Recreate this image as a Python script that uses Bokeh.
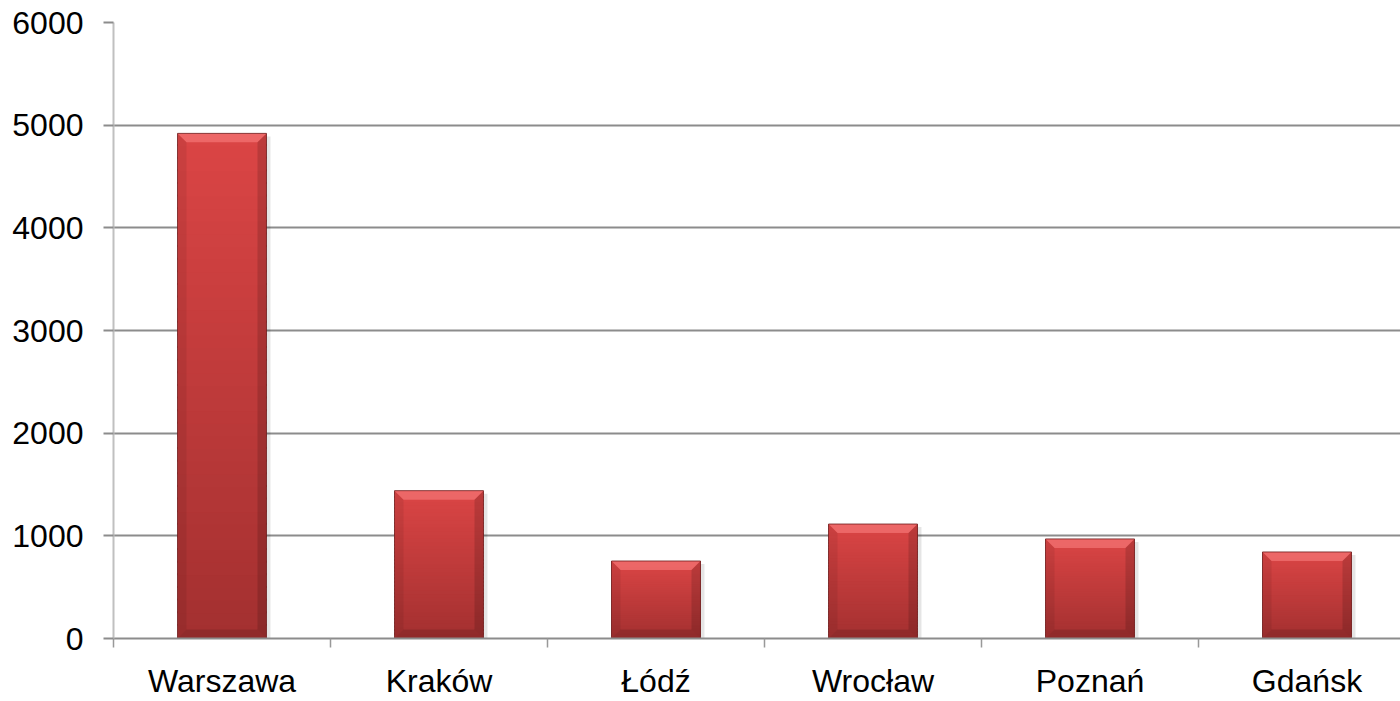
import numpy as np
from bokeh.plotting import figure
from bokeh.models import Range1d, FixedTicker
from bokeh.embed import file_html
from bokeh.resources import INLINE

# City figures
cities = ["Warszawa", "Kraków", "Łódź", "Wrocław", "Poznań", "Gdańsk"]
values = [4920, 1440, 755, 1115, 970, 843]
y_ticks = [0, 1000, 2000, 3000, 4000, 5000, 6000]

W, H = 1400, 701
LEFT, TOP, BOTTOM = 113, 22, 62
CAT_PX = 217          # pixel width of one category slot
BAR_W = 0.41          # bar width as share of a slot

frame_w = W - LEFT
frame_h = H - TOP - BOTTOM
x_end = frame_w / CAT_PX
y_max = y_ticks[-1]

p = figure(width=W, height=H, output_backend="svg", toolbar_location=None,
           x_range=Range1d(0, x_end), y_range=Range1d(0, y_max),
           min_border_left=LEFT, min_border_top=TOP, min_border_bottom=BOTTOM,
           min_border_right=0)
p.outline_line_color = None
p.background_fill_color = "white"
p.border_fill_color = "white"

centers = np.arange(len(cities)) + 0.5
vals = np.array(values, dtype=float)
left = centers - BAR_W / 2
right = centers + BAR_W / 2

# pixel -> data unit conversions for the bevel and shadow
px_x = 1.0 / CAT_PX
px_y = y_max / frame_h

# soft drop shadow
p.quad(left=left + 3 * px_x, right=right + 4 * px_x, bottom=0, top=vals - 3 * px_y,
       fill_color="#000000", fill_alpha=0.10, line_color=None)

# vertical gradient body, sliced per bar (slices overlap to avoid seams)
top_rgb = np.array([0xdb, 0x45, 0x45])
bot_rgb = np.array([0xa3, 0x30, 0x30])
n = 40
gl, gr, gb, gt, gc = [], [], [], [], []
for l, r, v in zip(left, right, vals):
    edges = np.linspace(0, v, n + 1)
    for k in range(n):
        t = (k + 0.5) / n  # 0 bottom -> 1 top
        c = bot_rgb + (top_rgb - bot_rgb) * t
        gl.append(l); gr.append(r)
        gb.append(edges[k]); gt.append(min(edges[k + 1] + 2 * px_y, v))
        gc.append("#%02x%02x%02x" % tuple(int(round(x)) for x in c))
p.quad(left=gl, right=gr, bottom=gb, top=gt, fill_color=gc, line_color=None)

# bevel faces
bx = 9 * px_x
by = 9 * px_y
tops_x, tops_y, lefts_x, lefts_y, rights_x, rights_y, bots_x, bots_y = ([] for _ in range(8))
for l, r, v in zip(left, right, vals):
    tops_x.append([l, r, r - bx, l + bx]); tops_y.append([v, v, v - by, v - by])
    lefts_x.append([l, l, l + bx, l + bx]); lefts_y.append([0, v, v - by, by])
    rights_x.append([r, r, r - bx, r - bx]); rights_y.append([0, v, v - by, by])
    bots_x.append([l, r, r - bx, l + bx]); bots_y.append([0, 0, by, by])
p.patches(tops_x, tops_y, fill_color="#ff8a8a", fill_alpha=0.5, line_color=None)
p.patches(lefts_x, lefts_y, fill_color="#000000", fill_alpha=0.07, line_color=None)
p.patches(rights_x, rights_y, fill_color="#000000", fill_alpha=0.14, line_color=None)
p.patches(bots_x, bots_y, fill_color="#000000", fill_alpha=0.12, line_color=None)

# thin outline
p.quad(left=left, right=right, bottom=0, top=vals, fill_color=None,
       line_color="#6e1c1c", line_width=1, line_alpha=0.8)

# grid
p.xgrid.grid_line_color = None
p.ygrid.grid_line_color = "#8c8c8c"
p.ygrid.grid_line_width = 2
p.ygrid.ticker = FixedTicker(ticks=y_ticks)

FONT = "Liberation Sans"
FONT_SIZE = "32px"

# y axis
ya = p.yaxis[0]
ya.ticker = FixedTicker(ticks=y_ticks)
ya.axis_line_color = "#c0c0c0"
ya.axis_line_width = 2
ya.major_tick_line_color = "#8c8c8c"
ya.major_tick_line_width = 2
ya.major_tick_out = 10
ya.major_tick_in = 0
ya.minor_tick_line_color = None
ya.major_label_standoff = 20
ya.major_label_text_font = FONT
ya.major_label_text_font_size = FONT_SIZE
ya.major_label_text_color = "#000000"

# x axis: labels at slot centres, tick marks at slot boundaries
xa = p.xaxis[0]
xa.ticker = FixedTicker(ticks=list(centers), minor_ticks=list(range(len(cities) + 1)))
xa.major_label_overrides = {float(c): name for c, name in zip(centers, cities)}
xa.axis_line_color = "#8c8c8c"
xa.axis_line_width = 2
xa.major_tick_line_color = None
xa.major_tick_out = 0
xa.major_tick_in = 0
xa.minor_tick_line_color = "#999999"
xa.minor_tick_line_width = 1.5
xa.minor_tick_out = 9
xa.minor_tick_in = 0
xa.major_label_standoff = 15
xa.major_label_text_font = FONT
xa.major_label_text_font_size = FONT_SIZE
xa.major_label_text_color = "#000000"

open("out.html", "w").write(file_html(p, INLINE))
